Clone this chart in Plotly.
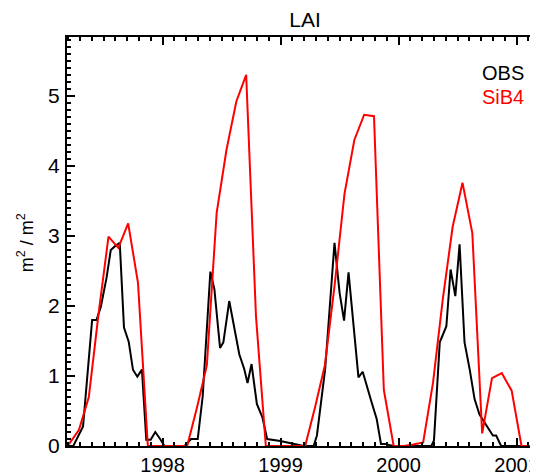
import plotly.graph_objects as go

# SiB4 monthly (mid-month), Feb 1997 .. Mar 2001
sib4_start_year = 1997
sib4_start_month = 2
sib4_values = [
    0.0, 0.03, 0.23, 0.70, 1.90, 2.99, 2.83, 3.18, 2.33, 0.0, 0.0,   # Feb-Dec 1997
    0.0, 0.0, 0.0, 0.55, 1.15, 3.33, 4.23, 4.92, 5.30, 1.85, 0.0, 0.0,  # 1998
    0.0, 0.0, 0.0, 0.55, 1.15, 2.30, 3.60, 4.37, 4.73, 4.71, 0.80, 0.0,  # 1999
    0.0, 0.02, 0.05, 0.90, 2.10, 3.13, 3.76, 3.04, 0.18, 0.97, 1.04, 0.79,  # 2000
    0.0, 0.0, 0.0,  # 2001
]

# OBS (decimal year, value)
obs_time = [
    1997.10, 1997.205, 1997.243, 1997.326, 1997.370, 1997.403, 1997.440, 1997.477,
    1997.525, 1997.561, 1997.595, 1997.637, 1997.673, 1997.713, 1997.749, 1997.786,
    1997.825, 1997.862, 1997.899, 1997.938, 1997.975, 1998.017, 1998.186, 1998.242,
    1998.298, 1998.340, 1998.405, 1998.439, 1998.487, 1998.515, 1998.565, 1998.607,
    1998.650, 1998.692, 1998.720, 1998.754, 1998.799, 1998.846, 1998.886, 1998.998,
    1999.196, 1999.280, 1999.308, 1999.378, 1999.457, 1999.500, 1999.538, 1999.576,
    1999.660, 1999.696, 1999.730, 1999.772, 1999.814, 1999.851, 1999.884, 1999.955,
    2000.278, 2000.300, 2000.349, 2000.405, 2000.441, 2000.481, 2000.517, 2000.559,
    2000.602, 2000.644, 2000.686, 2000.743, 2000.799, 2000.827, 2000.869, 2001.3,
]
obs_values = [
    0.0, 0.0, 0.0, 0.28, 1.16, 1.80, 1.80, 1.99,
    2.40, 2.80, 2.85, 2.90, 1.69, 1.49, 1.09, 0.99,
    1.09, 0.09, 0.09, 0.20, 0.11, 0.0, 0.0, 0.10,
    0.10, 0.71, 2.49, 2.24, 1.40, 1.48, 2.07, 1.70,
    1.31, 1.10, 0.90, 1.17, 0.60, 0.41, 0.10, 0.07,
    0.0, 0.0, 0.15, 1.10, 2.90, 2.19, 1.79, 2.48,
    0.98, 1.06, 0.85, 0.62, 0.39, 0.03, 0.03, 0.0,
    0.0, 0.08, 1.48, 1.71, 2.52, 2.14, 2.88, 1.48,
    1.10, 0.67, 0.45, 0.29, 0.15, 0.15, 0.0, 0.0,
]

year_ticks = [1998, 1999, 2000, 2001]
y_ticks = [0, 1, 2, 3, 4, 5]

sib4_time = []
for i in range(len(sib4_values)):
    m = sib4_start_month - 1 + i
    sib4_time.append(sib4_start_year + (m + 0.5) / 12.0)

FONT = "Liberation Sans, Arial, Helvetica, sans-serif"

fig = go.Figure()
fig.add_trace(go.Scatter(x=obs_time, y=obs_values, mode="lines",
                         line=dict(color="black", width=2), showlegend=False))
fig.add_trace(go.Scatter(x=sib4_time, y=sib4_values, mode="lines",
                         line=dict(color="#ff0000", width=2), showlegend=False))

# the page body has an 8px margin; plot area wanted at page x 67..543, y 37..446
OFF = 8
W, H = 538, 476
ml, mr, mt, mb = 67 - OFF, 3, 37 - OFF, 38
PW = W - ml - mr
PH = H - mt - mb

axis_common = dict(
    showline=True, linecolor="black", linewidth=2, mirror="allticks",
    ticks="inside", ticklen=8, tickwidth=2, tickcolor="black",
    showgrid=False, zeroline=False,
)
fig.update_layout(
    width=W, height=H,
    margin=dict(l=ml, r=mr, t=mt, b=mb, pad=0),
    plot_bgcolor="white", paper_bgcolor="white",
    font=dict(family=FONT, size=20, color="black"),
    title=dict(text="LAI", x=(305 - OFF) / W, xref="container", xanchor="center",
               y=1 - (20 - OFF) / H, yref="container", yanchor="middle",
               font=dict(family=FONT, size=21, color="black")),
    xaxis=dict(range=[1997.19, 2001.207], tickvals=year_ticks,
               ticktext=[str(y) for y in year_ticks],
               minor=dict(dtick=0.1, tick0=1998, ticks="inside", ticklen=4,
                          tickwidth=2, tickcolor="black"),
               ticklabelstandoff=0,
               tickfont=dict(family=FONT, size=20, color="black"),
               **axis_common),
    yaxis=dict(range=[0, 5.84], tickvals=y_ticks,
               ticktext=[str(v) for v in y_ticks],
               minor=dict(dtick=0.1, tick0=0, ticks="inside", ticklen=4,
                          tickwidth=2, tickcolor="black"),
               ticklabelstandoff=1,
               tickfont=dict(family=FONT, size=21, color="black"),
               **axis_common),
    annotations=[
        dict(text="m<sup>2</sup> / m<sup>2</sup>", xref="paper", yref="paper",
             x=(25 - 67) / PW, y=(446 - 243) / PH, textangle=-90,
             showarrow=False, xanchor="center", yanchor="middle",
             font=dict(family=FONT, size=18, color="black")),
        dict(text="OBS", xref="paper", yref="paper",
             x=(528 - 67) / PW, y=(446 - 73) / PH,
             showarrow=False, xanchor="right", yanchor="middle",
             font=dict(family=FONT, size=20, color="black")),
        dict(text="SiB4", xref="paper", yref="paper",
             x=(528 - 67) / PW, y=(446 - 97) / PH,
             showarrow=False, xanchor="right", yanchor="middle",
             font=dict(family=FONT, size=20, color="#ff0000")),
    ],
)

fig.write_html("out.html")
